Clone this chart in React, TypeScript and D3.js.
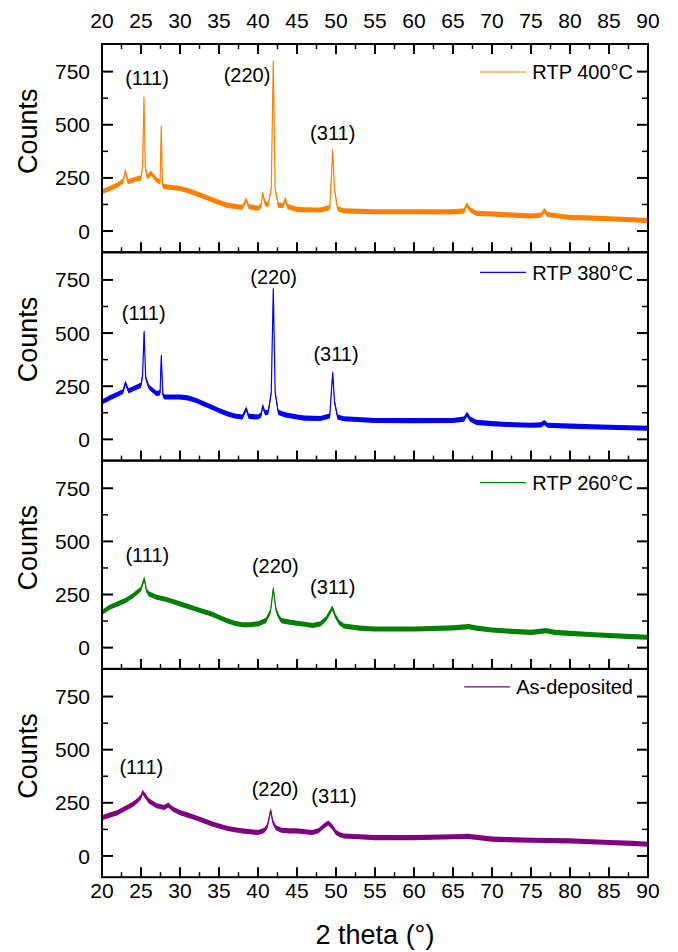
import React from 'react';
import * as d3 from 'd3';

// XRD patterns, [2theta, counts]
const rtp400: [number, number][] = [
  [20, 185], [21, 200], [22, 217], [22.7, 235], [23, 284], [23.3, 232], [24, 240], [25, 250], [25.2, 300],
  [25.38, 630], [25.55, 300], [25.8, 255], [26.3, 272], [27, 240], [27.45, 230], [27.6, 492], [27.75, 215],
  [28, 209], [29, 205], [30, 200], [31, 190], [32, 177], [33, 163], [34, 149], [35, 135], [36, 122], [37, 116],
  [38, 112], [38.5, 147], [38.8, 115], [40, 107], [40.4, 120], [40.6, 178], [40.9, 130], [41.3, 122], [41.7, 200],
  [41.96, 798], [42.2, 200], [42.6, 122], [43.2, 120], [43.5, 149], [43.8, 115], [45, 102], [46, 100], [48, 99],
  [49.2, 110], [49.4, 250], [49.58, 382], [49.8, 200], [50.2, 105], [51, 95], [55, 91], [60, 91], [65, 90],
  [66.4, 95], [66.76, 124], [67.2, 100], [68, 83], [70, 80], [72, 76], [75, 71], [76.3, 75], [76.7, 96],
  [77.1, 78], [80, 64], [82, 62], [85, 58], [88, 53], [90, 49],
];
const rtp380: [number, number][] = [
  [20, 176], [21, 195], [22, 212], [22.7, 225], [23, 265], [23.4, 228], [24, 238], [25, 255], [25.2, 300],
  [25.4, 507], [25.6, 290], [26, 246], [27, 215], [27.45, 220], [27.6, 394], [27.8, 210], [28, 199], [30, 199],
  [31, 195], [32, 184], [33, 168], [34, 152], [35, 136], [36, 121], [37, 110], [38, 105], [38.5, 144],
  [38.8, 108], [40, 105], [40.4, 115], [40.6, 157], [40.9, 125], [41.3, 127], [41.7, 220], [41.96, 708],
  [42.2, 220], [42.6, 127], [43.5, 115], [45, 105], [46, 100], [48, 98], [49.2, 110], [49.4, 220], [49.58, 314],
  [49.8, 180], [50.2, 105], [51, 97], [55, 89], [60, 88], [65, 89], [66.4, 95], [66.8, 118], [67.2, 95],
  [68, 80], [70, 74], [72, 70], [75, 66], [76.3, 68], [76.7, 80], [77.1, 66], [80, 62], [85, 57], [90, 52],
];
const rtp260: [number, number][] = [
  [20, 166], [21, 190], [22, 206], [23, 221], [24, 245], [25, 276], [25.42, 325], [25.7, 270], [26, 253],
  [27, 237], [28, 229], [29, 218], [30, 206], [31, 194], [32, 182], [33, 170], [34, 159], [35, 143], [36, 127],
  [37, 115], [38, 108], [39, 108], [40, 112], [41, 127], [41.6, 170], [41.96, 278], [42.3, 180], [42.7, 143],
  [43, 127], [44, 120], [45, 115], [46, 110], [47, 104], [48, 112], [48.7, 135], [49.2, 165], [49.53, 188],
  [49.9, 150], [50.4, 118], [51, 102], [53, 92], [55, 88], [60, 88], [65, 93], [67, 99], [68, 92], [70, 83],
  [72, 78], [75, 72], [77, 80], [78, 72], [80, 67], [82, 63], [85, 57], [88, 52], [90, 49],
];
const asDeposited: [number, number][] = [
  [20, 180], [21, 192], [22, 204], [23, 224], [24, 244], [24.6, 262], [25, 278], [25.2, 300], [25.5, 285],
  [26, 259], [27, 236], [28, 228], [28.5, 240], [29, 222], [30, 204], [31, 192], [32, 180], [33, 166], [34, 152],
  [35, 141], [36, 130], [37, 123], [38, 118], [39, 114], [40, 110], [40.8, 120], [41.2, 140], [41.63, 214],
  [41.9, 160], [42.3, 133], [43, 121], [44, 118], [45, 118], [46, 114], [47, 110], [47.8, 120], [48.4, 140],
  [49, 155], [49.5, 138], [50, 110], [50.5, 100], [51, 94], [53, 90], [55, 86], [60, 86], [65, 90], [67, 92],
  [70, 79], [72, 77], [75, 74], [80, 71], [82, 68], [85, 63], [88, 59], [90, 55],
];

const series = [rtp400, rtp380, rtp260, asDeposited];
const sampleNames = ['RTP 400°C', 'RTP 380°C', 'RTP 260°C', 'As-deposited'];
const sampleColors = ['#ff8000', '#0000ff', '#008000', '#800080'];

// reflection labels: [2theta, counts] of label centre
const peakNames = ['(111)', '(220)', '(311)'];
const peakLabelPos: [number, number][][] = [
  [[25.77, 720], [38.59, 734], [49.58, 460]],
  [[25.35, 595], [42.01, 767], [50.0, 403]],
  [[25.81, 438], [42.22, 383], [49.58, 285]],
  [[25.04, 419], [42.18, 318], [49.74, 281]],
];

const xTicks = [20, 25, 30, 35, 40, 45, 50, 55, 60, 65, 70, 75, 80, 85, 90];
const yTicks = [0, 250, 500, 750];

const W = 678;
const H = 952;
const left = 102;
const right = 648;
const top = 44;
const panelH = 208.3;
const legendDy = [28, 20, 22, 18];
const noise = 12;
const font = "'Liberation Sans', Arial, sans-serif";

const textWidth = (s: string, size: number) => {
  const ctx = document.createElement('canvas').getContext('2d');
  if (!ctx) return s.length * size * 0.55;
  ctx.font = `${size}px 'Liberation Sans', Arial`;
  return ctx.measureText(s).width;
};

const x = d3.scaleLinear().domain([20, 90]).range([left, right]);

const Panel = ({ i }: { i: number }) => {
  const y0 = top + i * panelH;
  const y = d3.scaleLinear().domain([-100, 880]).range([y0 + panelH, y0]);
  const data = series[i];
  const color = sampleColors[i];
  const line = d3.line<[number, number]>().x(d => x(d[0])).y(d => y(d[1]));
  // the noisy trace is drawn as a thin band round the read-off curve
  const band = d3.area<[number, number]>()
    .x(d => x(d[0]))
    .y0(d => y(d[1] - noise))
    .y1(d => y(d[1] + noise));
  const xMinor = d3.range(22.5, 90, 5);
  const yMinor = [125, 375, 625];
  const bottom = y0 + panelH;
  const lgY = y0 + legendDy[i];
  const lgRight = 633;
  const lgStart = lgRight - textWidth(sampleNames[i], 20);

  return (
    <g>
      <defs>
        <clipPath id={`clip${i}`}>
          <rect x={left} y={y0} width={right - left} height={panelH} />
        </clipPath>
      </defs>
      <g clipPath={`url(#clip${i})`}>
        <path d={band(data) || ''} fill={color} />
        <path d={line(data) || ''} fill="none" stroke={color} strokeWidth={1.2} strokeLinejoin="round" />
      </g>

      {/* ticks pointing inward */}
      <g stroke="#000">
        {xTicks.map(t => (
          <line key={`xb${t}`} x1={x(t)} x2={x(t)} y1={bottom} y2={bottom - 10} strokeWidth={2} />
        ))}
        {xMinor.map(t => (
          <line key={`xbm${t}`} x1={x(t)} x2={x(t)} y1={bottom} y2={bottom - 5} strokeWidth={1.5} />
        ))}
        {i === 0 && xTicks.map(t => (
          <line key={`xt${t}`} x1={x(t)} x2={x(t)} y1={y0} y2={y0 + 10} strokeWidth={2} />
        ))}
        {i === 0 && xMinor.map(t => (
          <line key={`xtm${t}`} x1={x(t)} x2={x(t)} y1={y0} y2={y0 + 5} strokeWidth={1.5} />
        ))}
        {yTicks.map(t => (
          <g key={`y${t}`}>
            <line x1={left} x2={left + 11} y1={y(t)} y2={y(t)} strokeWidth={2} />
            <line x1={right} x2={right - 11} y1={y(t)} y2={y(t)} strokeWidth={2} />
          </g>
        ))}
        {yMinor.map(t => (
          <g key={`ym${t}`}>
            <line x1={left} x2={left + 6} y1={y(t)} y2={y(t)} strokeWidth={1.5} />
            <line x1={right} x2={right - 6} y1={y(t)} y2={y(t)} strokeWidth={1.5} />
          </g>
        ))}
      </g>
      <rect x={left} y={y0} width={right - left} height={panelH} fill="none" stroke="#000" strokeWidth={2} />

      {yTicks.map(t => (
        <text key={`yl${t}`} x={90} y={y(t)} dy="0.36em" textAnchor="end" fontSize={21}>{t}</text>
      ))}
      <text
        transform={`translate(27,${y0 + panelH / 2 - 17}) rotate(-90)`}
        textAnchor="middle"
        dy="0.36em"
        fontSize={27}
      >
        Counts
      </text>

      {peakNames.map((p, k) => (
        <text
          key={p}
          x={x(peakLabelPos[i][k][0])}
          y={y(peakLabelPos[i][k][1])}
          dy="0.36em"
          textAnchor="middle"
          fontSize={20}
        >
          {p}
        </text>
      ))}

      <line x1={lgStart - 52} x2={lgStart - 6} y1={lgY} y2={lgY} stroke={color} strokeWidth={1.2} />
      <text x={lgRight} y={lgY} dy="0.36em" textAnchor="end" fontSize={20}>{sampleNames[i]}</text>
    </g>
  );
};

export default function App() {
  const bottom = top + panelH * series.length;
  return (
    <svg
      width={W}
      height={H}
      style={{ position: 'absolute', left: 0, top: 0, background: '#fff' }}
      fontFamily={font}
      fill="#000"
    >
      {series.map((_, i) => <Panel key={i} i={i} />)}
      {xTicks.map(t => (
        <text key={`tt${t}`} x={x(t)} y={27.5} textAnchor="middle" fontSize={21}>{t}</text>
      ))}
      {xTicks.map(t => (
        <text key={`bt${t}`} x={x(t)} y={bottom + 21} textAnchor="middle" fontSize={21}>{t}</text>
      ))}
      <text x={(left + right) / 2} y={944} textAnchor="middle" fontSize={27}>2 theta (°)</text>
    </svg>
  );
}
